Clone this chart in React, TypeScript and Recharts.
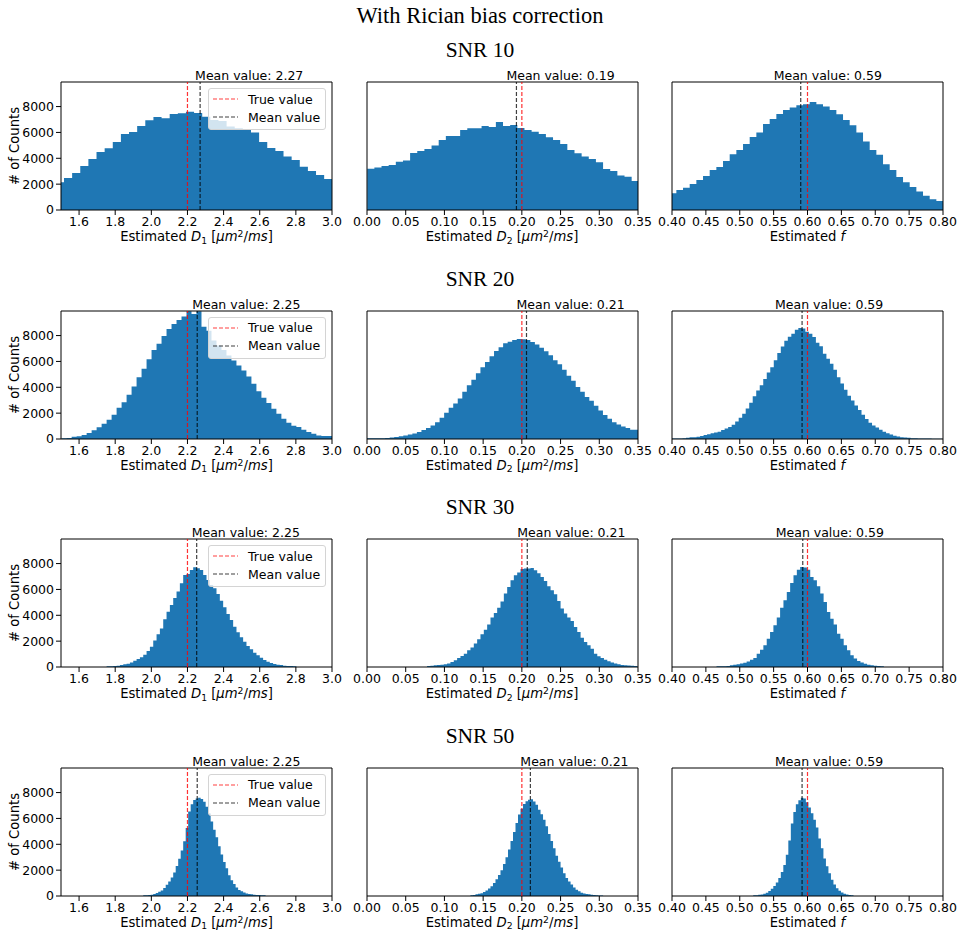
import React from 'react';
import { AreaChart, Area, XAxis, YAxis, ReferenceLine, ReferenceArea } from 'recharts';

// SNR levels and the three fitted parameters
const snrLevels = [10, 20, 30, 50];
const paramNames = ['D1', 'D2', 'f'];
const trueValues = [2.2, 0.2, 0.6];

// x axes
const xDomains: [number, number][] = [[1.5, 3.0], [0, 0.35], [0.4, 0.8]];
const xTicksD1 = [1.6, 1.8, 2.0, 2.2, 2.4, 2.6, 2.8, 3.0];
const xTicksD2 = [0, 0.05, 0.1, 0.15, 0.2, 0.25, 0.3, 0.35];
const xTicksF = [0.4, 0.45, 0.5, 0.55, 0.6, 0.65, 0.7, 0.75, 0.8];
const yTicks = [0, 2000, 4000, 6000, 8000];
const yMax = 9900;

// mean of each estimate, per SNR (D1, D2, f)
const meansSnr10 = [2.27, 0.193, 0.59];
const meansSnr20 = [2.254, 0.206, 0.592];
const meansSnr30 = [2.251, 0.207, 0.593];
const meansSnr50 = [2.254, 0.211, 0.592];

// histogram bins: first edge and width, per SNR (D1, D2, f)
const binStartSnr10 = [1.4716, 0.0003, 0.3966];
const binWidthSnr10 = [0.045, 0.00923, 0.00984];
const binStartSnr20 = [1.5037, 0, 0.4];
const binWidthSnr20 = [0.02764, 0.00586, 0.00518];
const binStartSnr30 = [1.7525, 0.0776, 0.4657];
const binWidthSnr30 = [0.01843, 0.00431, 0.00494];
const binStartSnr50 = [1.9552, 0.1336, 0.5199];
const binWidthSnr50 = [0.01382, 0.003233, 0.0037];

// counts per bin
const d1Snr10 = [2140, 2480, 2860, 3410, 3950, 4490, 4770, 5260, 5880, 6040, 6500, 6940, 7200, 7100, 7430, 7480, 7590, 7510, 7220, 6970, 6890, 6450, 6320, 6240, 5990, 5260, 4800, 4570, 4130, 3870, 3350, 3020, 2710, 2400];
const d2Snr10 = [3200, 3280, 3410, 3480, 3740, 3820, 4410, 4570, 4720, 4980, 5420, 5730, 5730, 6190, 6320, 6320, 6500, 6420, 6810, 6500, 6580, 6350, 6190, 6060, 5880, 5620, 5420, 5110, 4640, 4390, 4130, 3950, 3690, 3170, 3020, 2660, 2580, 2240];
const fSnr10 = [1290, 1550, 1730, 2010, 2320, 2630, 3100, 3330, 3790, 4310, 4640, 5110, 5650, 5990, 6660, 7040, 7430, 7740, 7920, 8100, 8180, 8360, 8180, 8000, 7740, 7400, 6970, 6550, 5990, 5290, 4640, 4280, 3530, 3100, 2550, 2140, 1780, 1440, 1110, 830, 700];

const d1Snr20 = [50, 80, 180, 210, 310, 460, 670, 900, 1180, 1490, 1880, 2420, 2850, 3420, 4060, 4780, 5430, 6170, 6890, 7360, 7970, 8510, 8900, 9210, 9470, 9880, 9670, 9880, 8690, 8380, 7610, 7230, 6890, 6460, 6070, 5680, 5300, 4840, 4270, 3700, 3190, 2780, 2340, 1950, 1570, 1260, 1030, 930, 720, 540, 410, 280, 230, 230, 230];
const d2Snr20 = [50, 50, 50, 60, 80, 120, 150, 210, 270, 340, 430, 540, 690, 850, 1050, 1300, 1650, 2030, 2420, 2750, 3130, 3650, 4150, 4580, 5080, 5550, 5950, 6400, 6800, 7100, 7400, 7520, 7650, 7740, 7720, 7650, 7500, 7300, 7050, 6780, 6480, 6100, 5780, 5350, 4900, 4500, 4030, 3650, 3250, 2950, 2580, 2200, 1860, 1560, 1300, 1120, 970, 860, 720, 720];
const fSnr20 = [30, 30, 40, 50, 100, 130, 130, 180, 230, 300, 360, 440, 500, 570, 690, 820, 920, 1100, 1350, 1650, 1950, 2350, 2800, 3300, 3750, 4150, 4650, 5150, 5550, 6100, 6650, 7150, 7600, 7900, 8150, 8450, 8590, 8550, 8300, 8150, 7880, 7450, 7180, 6600, 6200, 5820, 5350, 4780, 4300, 3800, 3350, 2980, 2600, 2250, 1880, 1550, 1250, 1050, 880, 720, 560, 440, 340, 250, 190, 140, 110, 90, 60, 50, 40, 40, 30, 30, 25, 25, 25];

const d1Snr30 = [50, 50, 80, 100, 150, 210, 260, 340, 490, 620, 750, 950, 1240, 1570, 2040, 2530, 2970, 3690, 4280, 4800, 5340, 5830, 6480, 7120, 7200, 7510, 7710, 7640, 7510, 7120, 6730, 6350, 6090, 5650, 5130, 4620, 4100, 3640, 3120, 2680, 2300, 1960, 1630, 1370, 1110, 900, 720, 540, 410, 310, 230, 180, 150, 100, 80, 80, 50];
const d2Snr30 = [80, 90, 130, 160, 180, 220, 280, 390, 520, 700, 850, 1030, 1290, 1500, 1810, 2140, 2530, 2890, 3280, 3820, 4180, 4590, 5060, 5680, 6190, 6710, 7100, 7300, 7580, 7620, 7620, 7660, 7480, 7250, 6970, 6660, 6240, 5930, 5620, 5110, 4520, 4130, 3820, 3560, 3100, 2710, 2270, 1940, 1680, 1420, 1030, 830, 700, 570, 440, 340, 280, 210, 150, 130, 110, 100, 80];
const fSnr30 = [50, 50, 50, 80, 130, 180, 210, 280, 330, 420, 570, 700, 1030, 1340, 1680, 2190, 2710, 3230, 3820, 4590, 5160, 5810, 6500, 7100, 7530, 7740, 7690, 7530, 6970, 6710, 6240, 5680, 5030, 4260, 3740, 3280, 2580, 2190, 1680, 1290, 900, 650, 460, 340, 260, 180, 130, 100, 80, 50];

const d1Snr50 = [50, 50, 80, 100, 150, 230, 330, 430, 610, 870, 1120, 1430, 1810, 2320, 2880, 3520, 4230, 5250, 6530, 7090, 7420, 7550, 7600, 7500, 7290, 6910, 6400, 5760, 5130, 4540, 3850, 3210, 2630, 2140, 1610, 1220, 920, 660, 460, 360, 280, 200, 150, 130, 100, 80, 80, 50, 50];
const d2Snr50 = [50, 80, 130, 170, 220, 300, 420, 580, 760, 1000, 1300, 1620, 2000, 2480, 3000, 3600, 4250, 4950, 5650, 6300, 6750, 7120, 7320, 7450, 7480, 7300, 7050, 6680, 6320, 5900, 5400, 4800, 4250, 3700, 3120, 2650, 2200, 1750, 1400, 1120, 880, 660, 490, 360, 260, 200, 150, 130, 100, 80, 60, 40, 30];
const fSnr50 = [50, 60, 90, 120, 180, 260, 380, 560, 780, 1050, 1400, 1850, 2400, 3200, 4300, 5600, 6500, 7100, 7400, 7600, 7550, 7250, 6850, 6400, 5900, 5300, 4450, 3700, 2900, 2300, 1750, 1250, 880, 600, 400, 280, 180, 120, 80, 50];

const countsBySnr = [
    [d1Snr10, d2Snr10, fSnr10],
    [d1Snr20, d2Snr20, fSnr20],
    [d1Snr30, d2Snr30, fSnr30],
    [d1Snr50, d2Snr50, fSnr50],
];
const binStarts = [binStartSnr10, binStartSnr20, binStartSnr30, binStartSnr50];
const binWidths = [binWidthSnr10, binWidthSnr20, binWidthSnr30, binWidthSnr50];
const means = [meansSnr10, meansSnr20, meansSnr30, meansSnr50];
const xTicks = [xTicksD1, xTicksD2, xTicksF];

const legendItems = [
    { name: 'True value', color: '#ff0000' },
    { name: 'Mean value', color: '#000000' },
];

// layout
const SANS = "'DejaVu Sans', sans-serif";
const SERIF = "'Times New Roman', 'Liberation Serif', serif";
const FS = 12.5;
const LABEL_FS = 13.2;
const COL_LEFT = [61, 366.5, 672];
const ROW_TOP = [82, 310.5, 539, 767.5];
const AX_W = 271;
const AX_H = 128;
const PAD_L = 60;
const PAD_T = 30;
const PAD_R = 30;
const PAD_B = 30;
const meanLabelDx = [-5, -10, -27];

const histData = (start: number, width: number, counts: number[]) => {
    const pts = counts.map((c, i) => ({ x: start + i * width, count: c }));
    pts.push({ x: start + counts.length * width, count: 0 });
    return pts;
};

const Sub = ({ children }: any) => (
    <span style={{ fontSize: '0.7em', position: 'relative', top: '0.3em' }}>{children}</span>
);
const Sup = ({ children }: any) => (
    <span style={{ fontSize: '0.7em', position: 'relative', top: '-0.4em' }}>{children}</span>
);

const XLabel = ({ col }: { col: number }) => {
    if (col === 2) {
        return <>Estimated <i>f</i></>;
    }
    return (
        <>
            Estimated <i>D</i><Sub>{col + 1}</Sub> [<i>μm</i><Sup>2</Sup>/<i>ms</i>]
        </>
    );
};

const LegendBox = () => (
    <div style={{
        position: 'absolute',
        left: PAD_L + AX_W - 6 - 118,
        top: PAD_T + 6,
        width: 118,
        height: 42,
        boxSizing: 'border-box',
        border: '1px solid #d4d4d4',
        borderRadius: 3,
        background: 'rgba(255, 255, 255, 0.8)',
        fontFamily: SANS,
        fontSize: FS,
    }}>
        {legendItems.map((item, i) => (
            <div key={item.name} style={{
                position: 'absolute',
                left: 4,
                top: 1 + i * 18,
                height: 18,
                display: 'flex',
                alignItems: 'center',
                whiteSpace: 'nowrap',
            }}>
                <svg width={25} height={4} style={{ display: 'block' }}>
                    <line x1={0} y1={2} x2={25} y2={2} stroke={item.color} strokeOpacity={0.75}
                        strokeWidth={1.2} strokeDasharray="4 2" />
                </svg>
                <span style={{ marginLeft: 10 }}>{item.name}</span>
            </div>
        ))}
    </div>
);

const Panel = ({ row, col }: { row: number; col: number }) => {
    const data = histData(binStarts[row][col], binWidths[row][col], countsBySnr[row][col]);
    const [xMin, xMax] = xDomains[col];
    const mean = means[row][col];
    const decimals = col === 0 ? 1 : 2;

    return (
        <div style={{ position: 'absolute', left: COL_LEFT[col] - PAD_L, top: ROW_TOP[row] - PAD_T }}>
            <AreaChart
                width={PAD_L + AX_W + PAD_R}
                height={PAD_T + AX_H + PAD_B}
                data={data}
                margin={{ top: PAD_T, right: PAD_R, bottom: 0, left: col === 0 ? 0 : PAD_L }}
            >
                <XAxis
                    type="number"
                    dataKey="x"
                    domain={[xMin, xMax]}
                    allowDataOverflow
                    ticks={xTicks[col]}
                    interval={0}
                    tickFormatter={(v: number) => v.toFixed(decimals)}
                    height={PAD_B}
                    axisLine={false}
                    stroke="#000"
                    tickSize={5}
                    tickMargin={2}
                    tick={{ fill: '#000', fontSize: FS, fontFamily: SANS }}
                />
                <YAxis
                    type="number"
                    domain={[0, yMax]}
                    allowDataOverflow
                    ticks={yTicks}
                    interval={0}
                    hide={col !== 0}
                    width={PAD_L}
                    axisLine={false}
                    stroke="#000"
                    tickSize={5}
                    tickMargin={2}
                    tick={{ fill: '#000', fontSize: FS, fontFamily: SANS }}
                />
                <Area
                    type="stepAfter"
                    dataKey="count"
                    stroke="none"
                    fill="#1f77b4"
                    fillOpacity={1}
                    dot={false}
                    activeDot={false}
                    isAnimationActive={false}
                />
                <ReferenceLine
                    x={trueValues[col]}
                    stroke="#ff0000"
                    strokeOpacity={0.8}
                    strokeWidth={1.2}
                    strokeDasharray="4 2"
                />
                <ReferenceLine
                    x={mean}
                    stroke="#000"
                    strokeOpacity={0.75}
                    strokeWidth={1.2}
                    strokeDasharray="4 2"
                    label={{
                        content: (p: any) => (
                            <text
                                x={p.viewBox.x + meanLabelDx[col]}
                                y={p.viewBox.y - 2}
                                fontSize={FS}
                                fontFamily={SANS}
                                fill="#000"
                            >
                                {`Mean value: ${mean.toFixed(2)}`}
                            </text>
                        ),
                    }}
                />
                <ReferenceArea x1={xMin} x2={xMax} y1={0} y2={yMax} fill="none" stroke="#000" strokeWidth={1} />
            </AreaChart>
            {col === 0 && <LegendBox />}
        </div>
    );
};

export default function App() {
    return (
        <div style={{ position: 'absolute', left: 0, top: 0, width: 960, height: 936, background: '#fff' }}>
            <div style={{
                position: 'absolute', left: 0, top: 0, width: 960, textAlign: 'center',
                fontFamily: SERIF, fontSize: 22.5, lineHeight: '32px',
            }}>
                With Rician bias correction
            </div>
            {snrLevels.map((snr, r) => (
                <React.Fragment key={snr}>
                    <div style={{
                        position: 'absolute', left: 0, top: ROW_TOP[r] - 32 - 16, width: 960,
                        textAlign: 'center', fontFamily: SERIF, fontSize: 21.5, lineHeight: '32px',
                    }}>
                        SNR {snr}
                    </div>
                    <div style={{
                        position: 'absolute', left: 15 - 60, top: ROW_TOP[r] + AX_H / 2 - 10,
                        width: 120, height: 20, lineHeight: '20px', textAlign: 'center',
                        transform: 'rotate(-90deg)', fontFamily: SANS, fontSize: LABEL_FS,
                    }}>
                        # of Counts
                    </div>
                    {paramNames.map((p, c) => (
                        <React.Fragment key={p}>
                            <Panel row={r} col={c} />
                            <div style={{
                                position: 'absolute', left: COL_LEFT[c] + AX_W / 2 - 150,
                                top: ROW_TOP[r] + AX_H + 27 - 8, width: 300, height: 16,
                                lineHeight: '16px', textAlign: 'center', fontFamily: SANS,
                                fontSize: LABEL_FS, whiteSpace: 'nowrap',
                            }}>
                                <XLabel col={c} />
                            </div>
                        </React.Fragment>
                    ))}
                </React.Fragment>
            ))}
        </div>
    );
}
